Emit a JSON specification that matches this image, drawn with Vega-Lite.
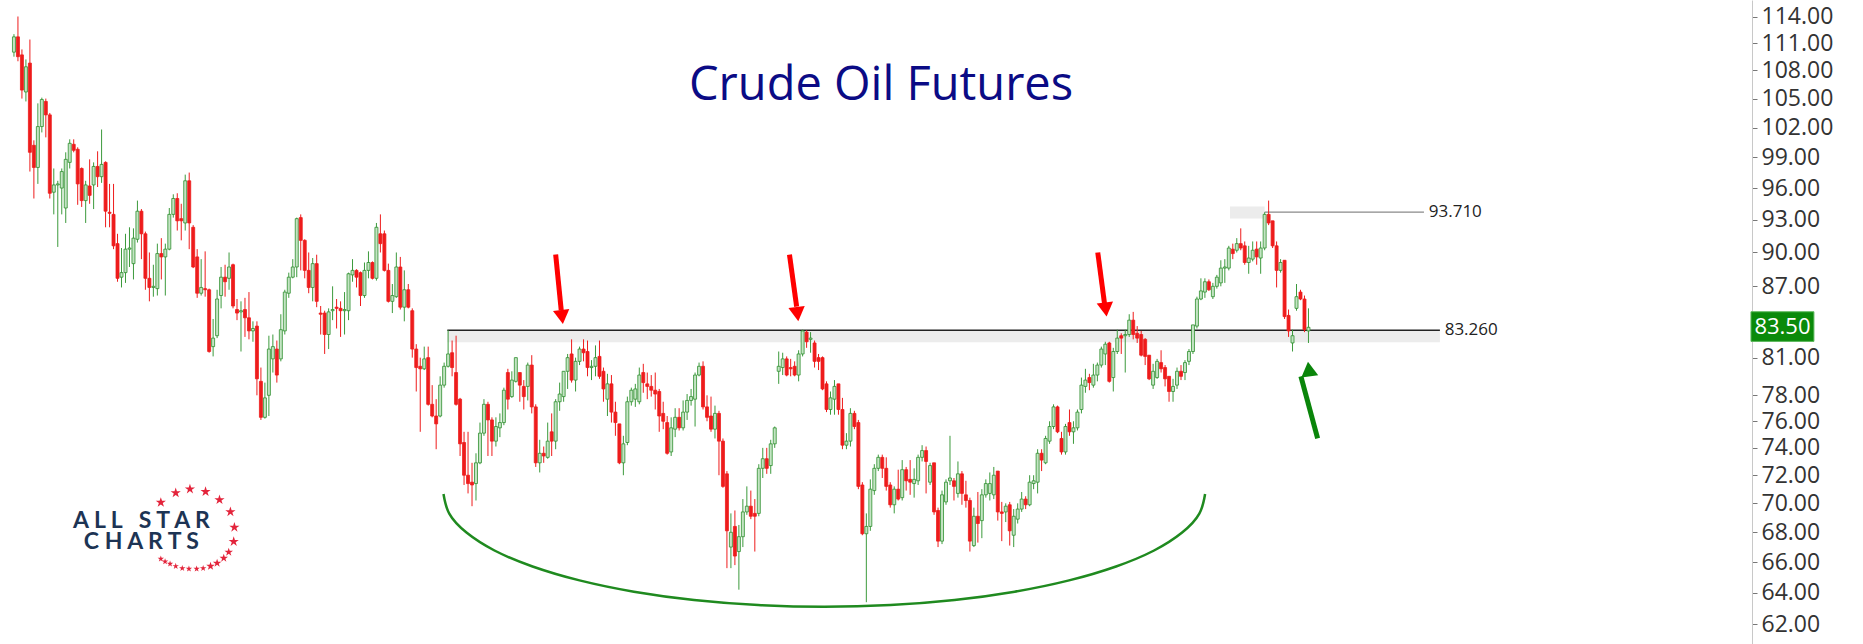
{
"$schema": "https://vega.github.io/schema/vega-lite/v6.json",
"width": 1752, "height": 644,
"autosize": {"type": "none"},
"padding": {"left": 0, "top": 0, "right": 111, "bottom": 0},
"background": "white",
"config": {"view": {"stroke": null}},
"datasets": {
"candles": [
{"i":0,"o":110,"h":112,"l":109.5,"c":111.7},{"i":1,"o":111.7,"h":114,"l":109,"c":109.5},{"i":2,"o":109.7,"h":110.3,"l":105,"c":105.9},{"i":3,"o":105.7,"h":109.2,"l":104.7,"c":108.4},{"i":4,"o":108.8,"h":111.4,"l":97.6,"c":99.5},{"i":5,"o":100.2,"h":100.7,"l":95,"c":98},{"i":6,"o":98,"h":104.5,"l":96.4,"c":102.1},{"i":7,"o":102.1,"h":105.1,"l":101.5,"c":104.9},{"i":8,"o":104.7,"h":105,"l":101,"c":103.3},{"i":9,"o":103.3,"h":103.5,"l":95,"c":95.5},
{"i":10,"o":95.6,"h":97.9,"l":93.5,"c":96.3},{"i":11,"o":96.3,"h":96.7,"l":90.5,"c":96.4},{"i":12,"o":96,"h":97.9,"l":93.5,"c":97.6},{"i":13,"o":94.1,"h":99.5,"l":92.7,"c":98.8},{"i":14,"o":98.5,"h":100.8,"l":97.9,"c":100.4},{"i":15,"o":100.3,"h":100.8,"l":99.5,"c":99.7},{"i":16,"o":99.8,"h":100,"l":94.4,"c":96.4},{"i":17,"o":97.9,"h":98,"l":94.2,"c":94.8},{"i":18,"o":94.8,"h":96.7,"l":92.7,"c":96.3},{"i":19,"o":96.2,"h":98.8,"l":94.5,"c":95.3},
{"i":20,"o":96.3,"h":98.5,"l":94,"c":98.1},{"i":21,"o":98.1,"h":99.6,"l":96.1,"c":97.1},{"i":22,"o":97.1,"h":101.8,"l":96.5,"c":98.3},{"i":23,"o":98.5,"h":98.6,"l":92.3,"c":93.8},{"i":24,"o":93.7,"h":96.4,"l":92.3,"c":93.6},{"i":25,"o":93.5,"h":96.4,"l":90.3,"c":90.6},{"i":26,"o":90.8,"h":91.7,"l":87.4,"c":87.7},{"i":27,"o":87.8,"h":90.4,"l":86.9,"c":88.2},{"i":28,"o":88.2,"h":91.7,"l":87.3,"c":90.3},{"i":29,"o":90.3,"h":92.3,"l":88.7,"c":90.4},
{"i":30,"o":89,"h":92.2,"l":87.6,"c":91.3},{"i":31,"o":91.2,"h":94.8,"l":90.9,"c":93.8},{"i":32,"o":93.8,"h":94,"l":89.4,"c":91.7},{"i":33,"o":91.7,"h":91.9,"l":86.7,"c":87.7},{"i":34,"o":87.7,"h":90,"l":85.7,"c":86.9},{"i":35,"o":86.9,"h":88.9,"l":86.1,"c":87},{"i":36,"o":86.8,"h":90.8,"l":86.2,"c":89.9},{"i":37,"o":89.9,"h":91.3,"l":87.6,"c":89.6},{"i":38,"o":89.6,"h":90.8,"l":86.2,"c":90.3},{"i":39,"o":90.3,"h":94.1,"l":90.2,"c":93.5},
{"i":40,"o":93.5,"h":95.4,"l":93.2,"c":95},{"i":41,"o":95,"h":95.5,"l":92,"c":92.9},{"i":42,"o":93.1,"h":94.5,"l":91.1,"c":92.9},{"i":43,"o":92.7,"h":97.3,"l":92,"c":96.7},{"i":44,"o":96.7,"h":97.5,"l":90.3,"c":92.7},{"i":45,"o":92.3,"h":92.5,"l":88.6,"c":88.7},{"i":46,"o":89.6,"h":90.3,"l":86,"c":86.4},{"i":47,"o":86.4,"h":89.4,"l":86.2,"c":86.9},{"i":48,"o":86.8,"h":90.1,"l":86.1,"c":86.7},{"i":49,"o":86.7,"h":86.8,"l":81.4,"c":81.5},
{"i":50,"o":81.9,"h":84.2,"l":81.1,"c":82.6},{"i":51,"o":82.8,"h":86.7,"l":82.6,"c":85.9},{"i":52,"o":86.2,"h":88.7,"l":85.1,"c":87.8},{"i":53,"o":87.8,"h":88.9,"l":86.1,"c":87.4},{"i":54,"o":87.7,"h":90,"l":86.7,"c":88.7},{"i":55,"o":88.9,"h":89,"l":85.1,"c":85.3},{"i":56,"o":85,"h":85.9,"l":84.1,"c":84.7},{"i":57,"o":84.8,"h":85.7,"l":81.5,"c":84.9},{"i":58,"o":85,"h":86,"l":82.7,"c":84.3},{"i":59,"o":84.3,"h":86.5,"l":82.5,"c":83.2},
{"i":60,"o":83.2,"h":84,"l":82.3,"c":83.4},{"i":61,"o":83.6,"h":84,"l":78,"c":79.3},{"i":62,"o":79.1,"h":80.2,"l":76.1,"c":76.3},{"i":63,"o":76.3,"h":79,"l":76.2,"c":77.8},{"i":64,"o":78,"h":82.8,"l":76.4,"c":81.7},{"i":65,"o":80.9,"h":82.9,"l":79.8,"c":81.9},{"i":66,"o":81.7,"h":82.4,"l":79,"c":79.6},{"i":67,"o":80.9,"h":84.6,"l":80.7,"c":83.3},{"i":68,"o":83.2,"h":86.7,"l":82.9,"c":86.5},{"i":69,"o":86.4,"h":88.2,"l":86,"c":87.8},
{"i":70,"o":87.8,"h":89.4,"l":87.7,"c":88.7},{"i":71,"o":88.7,"h":93.2,"l":87.8,"c":93.1},{"i":72,"o":93.2,"h":93.5,"l":88.4,"c":91.1},{"i":73,"o":91.1,"h":91.2,"l":87.7,"c":88.4},{"i":74,"o":88.4,"h":90,"l":86.4,"c":86.9},{"i":75,"o":86.9,"h":89.5,"l":85.7,"c":89},{"i":76,"o":89,"h":89.8,"l":85.2,"c":85.7},{"i":77,"o":84.7,"h":85.3,"l":82.9,"c":84.6},{"i":78,"o":84.7,"h":84.9,"l":81.3,"c":82.9},{"i":79,"o":82.9,"h":85.1,"l":81.7,"c":84.8},
{"i":80,"o":84.9,"h":87,"l":84.1,"c":85},{"i":81,"o":85.2,"h":85.9,"l":83.4,"c":85.1},{"i":82,"o":85.1,"h":85.7,"l":82.7,"c":84.9},{"i":83,"o":84.9,"h":86.5,"l":82.9,"c":85},{"i":84,"o":84.9,"h":88.2,"l":84.1,"c":88.1},{"i":85,"o":88,"h":89.4,"l":87.4,"c":88.4},{"i":86,"o":88.4,"h":88.5,"l":86.9,"c":87.8},{"i":87,"o":88.2,"h":88.3,"l":85.3,"c":86.2},{"i":88,"o":86.2,"h":89.1,"l":86,"c":88.4},{"i":89,"o":88.4,"h":90.1,"l":87.7,"c":89.1},
{"i":90,"o":89.1,"h":89.2,"l":87.6,"c":87.7},{"i":91,"o":87.7,"h":92.7,"l":87.5,"c":92.3},{"i":92,"o":91.7,"h":93.5,"l":90,"c":90.8},{"i":93,"o":91.7,"h":92,"l":88.3,"c":88.4},{"i":94,"o":88.4,"h":89,"l":85.6,"c":85.7},{"i":95,"o":85.7,"h":87.2,"l":84.7,"c":86.2},{"i":96,"o":86.1,"h":90,"l":86,"c":88.7},{"i":97,"o":88.7,"h":89.6,"l":85,"c":85.2},{"i":98,"o":85.2,"h":88.4,"l":84,"c":86.7},{"i":99,"o":86.7,"h":87.2,"l":85.1,"c":85.2},
{"i":100,"o":84.9,"h":85.1,"l":81,"c":81.7},{"i":101,"o":81.7,"h":82.1,"l":78.3,"c":80.2},{"i":102,"o":80.3,"h":81,"l":75.2,"c":80.1},{"i":103,"o":80.1,"h":81.9,"l":80,"c":80.9},{"i":104,"o":81,"h":81.9,"l":77.2,"c":77.3},{"i":105,"o":77.3,"h":78.8,"l":76.3,"c":76.4},{"i":106,"o":76.4,"h":77.7,"l":73.9,"c":75.8},{"i":107,"o":76.4,"h":79.5,"l":76.3,"c":78.8},{"i":108,"o":78.8,"h":80.6,"l":78.6,"c":80.3},{"i":109,"o":80.3,"h":83.26,"l":80.2,"c":81.3},
{"i":110,"o":81.4,"h":82.4,"l":79.5,"c":80.2},{"i":111,"o":79.8,"h":82.8,"l":77.2,"c":77.3},{"i":112,"o":77.7,"h":77.8,"l":73.4,"c":74.3},{"i":113,"o":74.4,"h":75.2,"l":71.3,"c":72},{"i":114,"o":72,"h":75.2,"l":70.7,"c":71.4},{"i":115,"o":71.5,"h":72.9,"l":69.8,"c":71.3},{"i":116,"o":71.4,"h":73.6,"l":70.2,"c":72.9},{"i":117,"o":72.9,"h":75.9,"l":72.8,"c":75.1},{"i":118,"o":75.1,"h":77.7,"l":74.9,"c":77.3},{"i":119,"o":77.3,"h":77.5,"l":73.4,"c":76.1},
{"i":120,"o":76.1,"h":76.3,"l":73.4,"c":74.5},{"i":121,"o":74.5,"h":76.3,"l":74.1,"c":75.6},{"i":122,"o":75.5,"h":76.6,"l":74.8,"c":75.9},{"i":123,"o":75.9,"h":78.6,"l":75.7,"c":78.4},{"i":124,"o":79.8,"h":80.1,"l":76.9,"c":77.7},{"i":125,"o":77.9,"h":79.9,"l":77.8,"c":79.2},{"i":126,"o":79.1,"h":81,"l":79,"c":81},{"i":127,"o":79.8,"h":79.8,"l":77.5,"c":78.8},{"i":128,"o":78.7,"h":79.2,"l":76.9,"c":77.9},{"i":129,"o":78.7,"h":80.6,"l":77.6,"c":80.4},
{"i":130,"o":80.4,"h":81.2,"l":76.6,"c":77.1},{"i":131,"o":77.1,"h":77.3,"l":72.6,"c":72.9},{"i":132,"o":72.9,"h":74.6,"l":72.2,"c":73.6},{"i":133,"o":73.6,"h":74.1,"l":72.9,"c":73.4},{"i":134,"o":73.3,"h":75.9,"l":73.2,"c":74.5},{"i":135,"o":75.2,"h":76.6,"l":73.4,"c":74.5},{"i":136,"o":74.5,"h":77.7,"l":73.9,"c":77.5},{"i":137,"o":77.5,"h":79,"l":76.8,"c":78.1},{"i":138,"o":77.9,"h":79.9,"l":77.5,"c":79.9},{"i":139,"o":79.9,"h":81.3,"l":78.5,"c":81},
{"i":140,"o":81.3,"h":82.5,"l":79,"c":79.2},{"i":141,"o":79.2,"h":81,"l":78.3,"c":80.7},{"i":142,"o":80.7,"h":81.9,"l":80.4,"c":81.7},{"i":143,"o":81.7,"h":82.5,"l":80.7,"c":81.4},{"i":144,"o":81.5,"h":82.4,"l":79.5,"c":80.2},{"i":145,"o":80.2,"h":80.8,"l":79.2,"c":80.3},{"i":146,"o":80.3,"h":82,"l":79.5,"c":81},{"i":147,"o":81.1,"h":82.4,"l":79.3,"c":79.5},{"i":148,"o":79.9,"h":80.2,"l":77.5,"c":78.5},{"i":149,"o":77.7,"h":79.7,"l":76.4,"c":78.9},
{"i":150,"o":78.9,"h":79.6,"l":75.9,"c":76.7},{"i":151,"o":76.7,"h":77.5,"l":74.9,"c":75.9},{"i":152,"o":75.8,"h":75.8,"l":72.8,"c":72.9},{"i":153,"o":72.9,"h":74.9,"l":72,"c":74.3},{"i":154,"o":74.4,"h":77.9,"l":74.2,"c":77.5},{"i":155,"o":77.5,"h":78.6,"l":77.2,"c":78.4},{"i":156,"o":77.7,"h":78.9,"l":77.1,"c":78.5},{"i":157,"o":77.5,"h":80.2,"l":77.3,"c":79.6},{"i":158,"o":79.8,"h":80.5,"l":78.2,"c":79},{"i":159,"o":78.9,"h":79.8,"l":77.7,"c":78.7},
{"i":160,"o":78.7,"h":79.6,"l":77.9,"c":78.4},{"i":161,"o":78.4,"h":79.8,"l":76.9,"c":78.1},{"i":162,"o":78.3,"h":78.5,"l":75.2,"c":76.4},{"i":163,"o":76.6,"h":77.5,"l":75.4,"c":76},{"i":164,"o":75.9,"h":76.4,"l":73.5,"c":73.6},{"i":165,"o":73.7,"h":76.3,"l":73.4,"c":75.5},{"i":166,"o":75.4,"h":77,"l":74.8,"c":76.3},{"i":167,"o":76.3,"h":77,"l":75.3,"c":75.5},{"i":168,"o":75.5,"h":77.6,"l":75.3,"c":76.7},{"i":169,"o":76.7,"h":78.1,"l":76.1,"c":77.6},
{"i":170,"o":77.6,"h":78.5,"l":77.2,"c":77.9},{"i":171,"o":77.7,"h":79.8,"l":75.6,"c":79.6},{"i":172,"o":79.6,"h":80.6,"l":79.5,"c":80.3},{"i":173,"o":80.3,"h":80.7,"l":76.9,"c":77.1},{"i":174,"o":77.1,"h":78,"l":76,"c":76.3},{"i":175,"o":76.4,"h":77.9,"l":75.2,"c":75.4},{"i":176,"o":75.4,"h":77.2,"l":74.7,"c":76.6},{"i":177,"o":76.6,"h":76.8,"l":72,"c":74.5},{"i":178,"o":74.5,"h":74.7,"l":71.1,"c":71.2},{"i":179,"o":72.1,"h":72.3,"l":65.6,"c":68.1},
{"i":180,"o":67,"h":69.3,"l":65.6,"c":68},{"i":181,"o":68.4,"h":69.5,"l":65.8,"c":66.4},{"i":182,"o":66.7,"h":68.5,"l":64.2,"c":67.7},{"i":183,"o":67.7,"h":70.3,"l":67,"c":69.4},{"i":184,"o":69.4,"h":71.2,"l":69.2,"c":69.8},{"i":185,"o":69.8,"h":70.9,"l":68.9,"c":69.1},{"i":186,"o":69.3,"h":70.3,"l":66.7,"c":69.1},{"i":187,"o":69.3,"h":72.8,"l":69.1,"c":72.5},{"i":188,"o":72.5,"h":74,"l":71.8,"c":73.2},{"i":189,"o":73.2,"h":74,"l":72.1,"c":72.5},
{"i":190,"o":72.7,"h":74.6,"l":72.1,"c":74.3},{"i":191,"o":74.3,"h":75.6,"l":74,"c":75.5},{"i":192,"o":79.9,"h":81.5,"l":78.9,"c":80.3},{"i":193,"o":80.2,"h":81.4,"l":79.6,"c":80.9},{"i":194,"o":80.9,"h":81.1,"l":79.5,"c":79.6},{"i":195,"o":80.2,"h":80.9,"l":79.5,"c":80.1},{"i":196,"o":80.3,"h":80.7,"l":79.5,"c":79.6},{"i":197,"o":79.6,"h":81.6,"l":79.1,"c":81.3},{"i":198,"o":81.3,"h":83.3,"l":81.1,"c":83.2},{"i":199,"o":83.1,"h":83.26,"l":81.8,"c":82.3},
{"i":200,"o":82.5,"h":83.1,"l":81.4,"c":82.6},{"i":201,"o":82.2,"h":82.4,"l":80.2,"c":80.7},{"i":202,"o":81,"h":81.3,"l":80,"c":80.7},{"i":203,"o":81,"h":81.1,"l":78.4,"c":78.5},{"i":204,"o":78.9,"h":79.1,"l":76.7,"c":76.9},{"i":205,"o":76.9,"h":78.3,"l":76.5,"c":77.8},{"i":206,"o":77.7,"h":79.2,"l":76.5,"c":78.7},{"i":207,"o":78.9,"h":78.9,"l":76.5,"c":76.9},{"i":208,"o":76.9,"h":77.8,"l":73.9,"c":74.2},{"i":209,"o":74.2,"h":75.1,"l":73.9,"c":74.5},
{"i":210,"o":74.5,"h":77,"l":74.1,"c":76.6},{"i":211,"o":76.6,"h":76.8,"l":75.4,"c":75.6},{"i":212,"o":75.9,"h":76.1,"l":71,"c":71.2},{"i":213,"o":71.3,"h":71.5,"l":67.8,"c":67.9},{"i":214,"o":67.9,"h":69.3,"l":63.4,"c":68.4},{"i":215,"o":68.4,"h":71.7,"l":68.1,"c":71},{"i":216,"o":70.9,"h":72.8,"l":70.6,"c":72.5},{"i":217,"o":72.5,"h":73.5,"l":72.3,"c":73.3},{"i":218,"o":73.3,"h":73.5,"l":71.8,"c":72.5},{"i":219,"o":72.5,"h":73.3,"l":70.9,"c":71.2},
{"i":220,"o":71.3,"h":71.5,"l":69.7,"c":69.9},{"i":221,"o":69.9,"h":71.2,"l":69.3,"c":71},{"i":222,"o":71,"h":72.4,"l":70.2,"c":70.3},{"i":223,"o":70.4,"h":73.1,"l":70.2,"c":72.4},{"i":224,"o":72.4,"h":72.6,"l":70.9,"c":71.6},{"i":225,"o":71.7,"h":73.1,"l":70.6,"c":71.5},{"i":226,"o":71.4,"h":72.5,"l":70.4,"c":71.7},{"i":227,"o":71.6,"h":73.5,"l":71.3,"c":73.3},{"i":228,"o":73.3,"h":74.2,"l":73,"c":73.8},{"i":229,"o":73.8,"h":74.1,"l":70.7,"c":73},
{"i":230,"o":71.5,"h":72.9,"l":71.3,"c":72.7},{"i":231,"o":72.9,"h":72.9,"l":69.2,"c":69.4},{"i":232,"o":69.5,"h":69.7,"l":67,"c":67.4},{"i":233,"o":67.4,"h":70.9,"l":67.2,"c":70.6},{"i":234,"o":70.1,"h":71.7,"l":69.9,"c":71.5},{"i":235,"o":71.6,"h":74.9,"l":71.3,"c":71.8},{"i":236,"o":71.6,"h":71.8,"l":70.2,"c":71.2},{"i":237,"o":70.7,"h":73,"l":70.4,"c":72.1},{"i":238,"o":72.1,"h":72.3,"l":69.9,"c":70.7},{"i":239,"o":70.6,"h":71.6,"l":69.7,"c":70.2},
{"i":240,"o":70.2,"h":70.4,"l":66.7,"c":67.4},{"i":241,"o":67.1,"h":69.7,"l":67,"c":69.1},{"i":242,"o":69.1,"h":70.8,"l":67.3,"c":68.6},{"i":243,"o":68.8,"h":71,"l":67.6,"c":70.6},{"i":244,"o":70.6,"h":71.7,"l":70.4,"c":71.4},{"i":245,"o":70.7,"h":72.2,"l":70.2,"c":71.4},{"i":246,"o":70.6,"h":72.6,"l":70.3,"c":72},{"i":247,"o":72.3,"h":72.3,"l":68.8,"c":69.4},{"i":248,"o":69.4,"h":70.1,"l":67.4,"c":69.3},{"i":249,"o":69.4,"h":70,"l":68.7,"c":69.8},
{"i":250,"o":69.9,"h":70.1,"l":67.1,"c":68.1},{"i":251,"o":67.8,"h":69.6,"l":67,"c":69.1},{"i":252,"o":68.9,"h":70,"l":68.6,"c":69.6},{"i":253,"o":69.6,"h":70.8,"l":69.4,"c":70.3},{"i":254,"o":70.3,"h":70.5,"l":69.6,"c":69.9},{"i":255,"o":69.9,"h":72,"l":69.8,"c":71.5},{"i":256,"o":71.4,"h":72,"l":71,"c":71.6},{"i":257,"o":71.5,"h":73.9,"l":70.7,"c":73.6},{"i":258,"o":73.6,"h":73.9,"l":72.3,"c":73.1},{"i":259,"o":72.9,"h":74.9,"l":72.8,"c":74.7},
{"i":260,"o":74.5,"h":76,"l":74.3,"c":75.6},{"i":261,"o":75.6,"h":77.3,"l":75.4,"c":77.1},{"i":262,"o":77.1,"h":77.2,"l":75.1,"c":75.2},{"i":263,"o":74.7,"h":75.2,"l":73.5,"c":73.7},{"i":264,"o":73.7,"h":75.8,"l":73.5,"c":75.6},{"i":265,"o":75.9,"h":76.9,"l":74.9,"c":75.2},{"i":266,"o":75.2,"h":76,"l":74.3,"c":75.5},{"i":267,"o":75.5,"h":76.9,"l":75.3,"c":76.7},{"i":268,"o":76.9,"h":79.4,"l":76.6,"c":78.8},{"i":269,"o":78.7,"h":80.1,"l":78.2,"c":79.2},
{"i":270,"o":79.4,"h":79.7,"l":78.4,"c":79},{"i":271,"o":78.8,"h":80.5,"l":78.6,"c":79.6},{"i":272,"o":79.6,"h":80.6,"l":79.1,"c":80.4},{"i":273,"o":80.4,"h":81.9,"l":80.2,"c":81.7},{"i":274,"o":81.3,"h":82.3,"l":80.4,"c":82.1},{"i":275,"o":82.2,"h":82.3,"l":79,"c":79.1},{"i":276,"o":79.4,"h":81.8,"l":78.3,"c":81.5},{"i":277,"o":81.5,"h":83.3,"l":81.3,"c":82.6},{"i":278,"o":82.8,"h":83,"l":81.3,"c":82.6},{"i":279,"o":82.8,"h":83.3,"l":79.8,"c":82.9},
{"i":280,"o":82.9,"h":84.6,"l":82.7,"c":84.1},{"i":281,"o":84.1,"h":84.8,"l":82.5,"c":82.9},{"i":282,"o":83,"h":83.6,"l":82.2,"c":82.6},{"i":283,"o":82.9,"h":83.2,"l":81.1,"c":81.2},{"i":284,"o":82.5,"h":82.6,"l":80.4,"c":81.1},{"i":285,"o":81.2,"h":81.2,"l":79.2,"c":79.3},{"i":286,"o":78.8,"h":80.5,"l":78.5,"c":79.9},{"i":287,"o":79.4,"h":80.9,"l":79.3,"c":80.7},{"i":288,"o":80.6,"h":81.6,"l":79.8,"c":80.1},{"i":289,"o":80.2,"h":80.4,"l":78.7,"c":79.3},
{"i":290,"o":79.5,"h":79.5,"l":77.5,"c":78.3},{"i":291,"o":78.3,"h":79.3,"l":77.5,"c":78.7},{"i":292,"o":78.8,"h":80.2,"l":78.5,"c":79.9},{"i":293,"o":79.9,"h":80.4,"l":79.2,"c":79.5},{"i":294,"o":79.8,"h":80.8,"l":79.2,"c":80.6},{"i":295,"o":80.7,"h":81.7,"l":80.4,"c":81.5},{"i":296,"o":81.5,"h":83.7,"l":81.3,"c":83.7},{"i":297,"o":83.6,"h":86.1,"l":83.4,"c":85.9},{"i":298,"o":85.9,"h":87.7,"l":85.8,"c":86.6},{"i":299,"o":86.5,"h":87.7,"l":86,"c":87.4},
{"i":300,"o":87.4,"h":87.6,"l":86.6,"c":86.7},{"i":301,"o":86.1,"h":87.3,"l":85.9,"c":87},{"i":302,"o":87,"h":88,"l":86.8,"c":87.8},{"i":303,"o":87.3,"h":89.3,"l":87,"c":88.6},{"i":304,"o":88.6,"h":89.4,"l":87.3,"c":88.7},{"i":305,"o":88.6,"h":90.6,"l":88.4,"c":90.4},{"i":306,"o":90.3,"h":90.8,"l":89.4,"c":89.9},{"i":307,"o":90.2,"h":91.3,"l":90,"c":90.8},{"i":308,"o":90.8,"h":92.2,"l":90.2,"c":90.4},{"i":309,"o":90.6,"h":91,"l":88.9,"c":89.1},
{"i":310,"o":89.1,"h":90.6,"l":88.1,"c":89.5},{"i":311,"o":89.4,"h":91,"l":89.2,"c":90.2},{"i":312,"o":90.3,"h":91,"l":88.9,"c":89.6},{"i":313,"o":89.5,"h":91,"l":88.1,"c":90.4},{"i":314,"o":90.4,"h":93.7,"l":90.2,"c":93.5},{"i":315,"o":93.5,"h":94.8,"l":92.5,"c":92.7},{"i":316,"o":92.9,"h":92.9,"l":90.4,"c":90.6},{"i":317,"o":90.6,"h":91,"l":86.9,"c":88.4},{"i":318,"o":88.4,"h":89.4,"l":88.2,"c":89.1},{"i":319,"o":89.3,"h":89.3,"l":84.2,"c":84.4},
{"i":320,"o":84.5,"h":85,"l":82.7,"c":83.2},{"i":321,"o":82.2,"h":83.3,"l":81.5,"c":82.8},{"i":322,"o":85.1,"h":87.2,"l":84.9,"c":86.1},{"i":323,"o":86.5,"h":86.7,"l":85.8,"c":85.9},{"i":324,"o":85.9,"h":86.2,"l":83.1,"c":83.3},{"i":325,"o":83.2,"h":85.1,"l":82.2,"c":83.5}
],
"arc": [
{"k":0,"i":107.84,"p":70.66},{"k":1,"i":109.29,"p":69.28},{"k":2,"i":113.61,"p":67.98},{"k":3,"i":120.64,"p":66.77},{"k":4,"i":130.2,"p":65.71},{"k":5,"i":141.99,"p":64.8},{"k":6,"i":155.64,"p":64.07},{"k":7,"i":170.74,"p":63.54},{"k":8,"i":186.84,"p":63.22},{"k":9,"i":203.44,"p":63.11},{"k":10,"i":220.04,"p":63.22},{"k":11,"i":236.15,"p":63.54},{"k":12,"i":251.25,"p":64.07},{"k":13,"i":264.9,"p":64.8},{"k":14,"i":276.69,"p":65.71},{"k":15,"i":286.24,"p":66.77},{"k":16,"i":293.28,"p":67.98},{"k":17,"i":297.6,"p":69.28},{"k":18,"i":299.05,"p":70.66}
],
"stars": [
{"i":36.87,"p":70.06,"t":"big"},{"i":40.61,"p":70.73,"t":"big"},{"i":44.18,"p":71.01,"t":"big"},{"i":48.1,"p":70.82,"t":"big"},{"i":51.6,"p":70.25,"t":"big"},{"i":54.34,"p":69.41,"t":"big"},{"i":55.34,"p":68.34,"t":"big"},{"i":55.17,"p":67.37,"t":"big"},
{"i":53.92,"p":66.66,"t":"mid"},{"i":52.67,"p":66.26,"t":"mid"},{"i":51.0,"p":65.93,"t":"mid"},{"i":49.35,"p":65.73,"t":"mid"},
{"i":47.5,"p":65.59,"t":"small"},{"i":45.86,"p":65.55,"t":"small"},{"i":43.93,"p":65.55,"t":"small"},{"i":42.26,"p":65.59,"t":"small"},{"i":40.61,"p":65.73,"t":"small"},{"i":39.19,"p":65.88,"t":"small"},{"i":37.94,"p":66.03,"t":"small"},{"i":36.87,"p":66.21,"t":"small"}
]
},
"layer": [
{"data": {"values": [{"x1":108.8,"x2":358.0,"y1":83.26,"y2":82.25},{"x1":305.3,"x2":314.0,"y1":94.23,"y2":93.12}]},
 "mark": {"type": "rect", "fill": "#ececec"},
 "encoding": {
  "x": {"field": "x1", "type": "quantitative", "scale": {"domain": [-2.25, 435.1], "nice": false, "zero": false}, "axis": null},
  "x2": {"field": "x2"},
  "y": {"field": "y1", "type": "quantitative", "scale": {"type": "log", "domain": [60.8, 115.9], "nice": false, "zero": false},
        "axis": {"orient": "right", "title": null, "values": [62,64,66,68,70,72,74,76,78,81,87,90,93,96,99,102,105,108,111,114], "format": ".2f", "labelFont": "Open Sans", "labelFontSize": 23, "labelColor": "#333333", "tickColor": "#777777", "tickSize": 5, "labelPadding": 4, "domainColor": "#c8c8c8", "grid": false, "labelOverlap": false}},
  "y2": {"field": "y2"}}},
{"data": {"values": [{"x1":108.8,"x2":358.0,"y":83.26}]},
 "mark": {"type": "rule", "stroke": "#222222", "strokeWidth": 1.5},
 "encoding": {
  "x": {"field": "x1", "type": "quantitative", "scale": {"domain": [-2.25, 435.1], "nice": false, "zero": false}, "axis": null},
  "x2": {"field": "x2"},
  "y": {"field": "y", "type": "quantitative", "scale": {"type": "log", "domain": [60.8, 115.9], "nice": false, "zero": false}}}},
{"data": {"values": [{"x1":314.0,"x2":354.0,"y":93.71}]},
 "mark": {"type": "rule", "stroke": "#8a8a8a", "strokeWidth": 1.2},
 "encoding": {
  "x": {"field": "x1", "type": "quantitative", "scale": {"domain": [-2.25, 435.1], "nice": false, "zero": false}, "axis": null},
  "x2": {"field": "x2"},
  "y": {"field": "y", "type": "quantitative", "scale": {"type": "log", "domain": [60.8, 115.9], "nice": false, "zero": false}}}},
{"data": {"name": "arc"},
 "mark": {"type": "line", "stroke": "#1f8a1f", "strokeWidth": 2.5, "interpolate": "natural"},
 "encoding": {
  "x": {"field": "i", "type": "quantitative", "scale": {"domain": [-2.25, 435.1], "nice": false, "zero": false}, "axis": null},
  "y": {"field": "p", "type": "quantitative", "scale": {"type": "log", "domain": [60.8, 115.9], "nice": false, "zero": false}},
  "order": {"field": "k", "type": "quantitative"}}},
{"data": {"name": "candles"},
 "mark": {"type": "rule", "strokeWidth": 1},
 "encoding": {
  "x": {"field": "i", "type": "quantitative", "scale": {"domain": [-2.25, 435.1], "nice": false, "zero": false}, "axis": null},
  "y": {"field": "l", "type": "quantitative", "scale": {"type": "log", "domain": [60.8, 115.9], "nice": false, "zero": false}},
  "y2": {"field": "h"},
  "stroke": {"condition": {"test": "datum.c >= datum.o", "value": "#3c9a3c"}, "value": "#ee1c1c"}}},
{"data": {"name": "candles"},
 "mark": {"type": "bar", "width": 3, "strokeWidth": 0.8},
 "encoding": {
  "x": {"field": "i", "type": "quantitative", "scale": {"domain": [-2.25, 435.1], "nice": false, "zero": false}, "axis": null},
  "y": {"field": "o", "type": "quantitative", "scale": {"type": "log", "domain": [60.8, 115.9], "nice": false, "zero": false}},
  "y2": {"field": "c"},
  "fill": {"condition": {"test": "datum.c >= datum.o", "value": "#c3e4c3"}, "value": "#ee1c1c"},
  "stroke": {"condition": {"test": "datum.c >= datum.o", "value": "#2f8f2f"}, "value": "#ee1c1c"}}},
{"data": {"values": [{"x1":136.0,"y1":89.82,"x2":137.4,"y2":84.93},{"x1":194.7,"y1":89.8,"x2":196.5,"y2":85.24},{"x1":272.1,"y1":90.0,"x2":273.8,"y2":85.5}]},
 "mark": {"type": "rule", "stroke": "#ff0000", "strokeWidth": 5},
 "encoding": {
  "x": {"field": "x1", "type": "quantitative", "scale": {"domain": [-2.25, 435.1], "nice": false, "zero": false}, "axis": null},
  "x2": {"field": "x2"},
  "y": {"field": "y1", "type": "quantitative", "scale": {"type": "log", "domain": [60.8, 115.9], "nice": false, "zero": false}},
  "y2": {"field": "y2"}}},
{"data": {"values": [{"x":137.6,"y":84.37},{"x":196.7,"y":84.61},{"x":274.1,"y":85.0}]},
 "mark": {"type": "point", "shape": "triangle-down", "filled": true, "size": 270, "angle": -7, "fill": "#ff0000", "opacity": 1, "strokeWidth": 0},
 "encoding": {
  "x": {"field": "x", "type": "quantitative", "scale": {"domain": [-2.25, 435.1], "nice": false, "zero": false}, "axis": null},
  "y": {"field": "y", "type": "quantitative", "scale": {"type": "log", "domain": [60.8, 115.9], "nice": false, "zero": false}}}},
{"data": {"values": [{"x1":327.3,"y1":74.7,"x2":323.1,"y2":79.5}]},
 "mark": {"type": "rule", "stroke": "#0a850a", "strokeWidth": 5},
 "encoding": {
  "x": {"field": "x1", "type": "quantitative", "scale": {"domain": [-2.25, 435.1], "nice": false, "zero": false}, "axis": null},
  "x2": {"field": "x2"},
  "y": {"field": "y1", "type": "quantitative", "scale": {"type": "log", "domain": [60.8, 115.9], "nice": false, "zero": false}},
  "y2": {"field": "y2"}}},
{"data": {"values": [{"x":325.1,"y":80.08}]},
 "mark": {"type": "point", "shape": "triangle-up", "filled": true, "size": 290, "angle": -7, "fill": "#0a850a", "opacity": 1, "strokeWidth": 0},
 "encoding": {
  "x": {"field": "x", "type": "quantitative", "scale": {"domain": [-2.25, 435.1], "nice": false, "zero": false}, "axis": null},
  "y": {"field": "y", "type": "quantitative", "scale": {"type": "log", "domain": [60.8, 115.9], "nice": false, "zero": false}}}},
{"data": {"values": [{"x":217.7,"y":104.9,"t":"Crude Oil Futures"}]},
 "mark": {"type": "text", "font": "Open Sans", "fontSize": 47, "fill": "#0b0b85", "align": "center", "baseline": "alphabetic"},
 "encoding": {
  "x": {"field": "x", "type": "quantitative", "scale": {"domain": [-2.25, 435.1], "nice": false, "zero": false}, "axis": null},
  "y": {"field": "y", "type": "quantitative", "scale": {"type": "log", "domain": [60.8, 115.9], "nice": false, "zero": false}},
  "text": {"field": "t"}}},
{"data": {"values": [{"x":355.2,"y":93.71,"t":"93.710"},{"x":359.2,"y":83.26,"t":"83.260"}]},
 "mark": {"type": "text", "font": "Open Sans", "fontSize": 17, "fill": "#222222", "align": "left", "baseline": "middle"},
 "encoding": {
  "x": {"field": "x", "type": "quantitative", "scale": {"domain": [-2.25, 435.1], "nice": false, "zero": false}, "axis": null},
  "y": {"field": "y", "type": "quantitative", "scale": {"type": "log", "domain": [60.8, 115.9], "nice": false, "zero": false}},
  "text": {"field": "t"}}},
{"data": {"values": [{"x":32.0,"y":68.75,"t":"A L L\u00a0\u00a0\u00a0S T A R\nC H A R T S"}]},
 "mark": {"type": "text", "font": "Lato", "fontWeight": "bold", "fontSize": 23, "lineHeight": 21, "lineBreak": "\n", "fill": "#1d3454", "align": "center", "baseline": "middle"},
 "encoding": {
  "x": {"field": "x", "type": "quantitative", "scale": {"domain": [-2.25, 435.1], "nice": false, "zero": false}, "axis": null},
  "y": {"field": "y", "type": "quantitative", "scale": {"type": "log", "domain": [60.8, 115.9], "nice": false, "zero": false}},
  "text": {"field": "t"}}},
{"data": {"name": "stars"},
 "mark": {"type": "point", "shape": "M0,-1L0.2245,-0.309L0.9511,-0.309L0.3633,0.118L0.5878,0.809L0,0.382L-0.5878,0.809L-0.3633,0.118L-0.9511,-0.309L-0.2245,-0.309Z", "filled": true, "fill": "#e3243b", "opacity": 1, "strokeWidth": 0},
 "encoding": {
  "x": {"field": "i", "type": "quantitative", "scale": {"domain": [-2.25, 435.1], "nice": false, "zero": false}, "axis": null},
  "y": {"field": "p", "type": "quantitative", "scale": {"type": "log", "domain": [60.8, 115.9], "nice": false, "zero": false}},
  "size": {"field": "t", "type": "nominal", "scale": {"domain": ["big", "mid", "small"], "range": [115, 45, 22]}, "legend": null}}},
{"data": {"values": [{"x1":436.1,"x2":451.9,"y1":84.81,"y2":82.33}]},
 "mark": {"type": "rect", "fill": "#0a8a0a", "stroke": "#5cb85c", "strokeWidth": 1},
 "encoding": {
  "x": {"field": "x1", "type": "quantitative", "scale": {"domain": [-2.25, 435.1], "nice": false, "zero": false}, "axis": null},
  "x2": {"field": "x2"},
  "y": {"field": "y1", "type": "quantitative", "scale": {"type": "log", "domain": [60.8, 115.9], "nice": false, "zero": false}},
  "y2": {"field": "y2"}}},
{"data": {"values": [{"x":444.0,"y":83.5,"t":"83.50"}]},
 "mark": {"type": "text", "font": "Open Sans", "fontSize": 22, "fill": "#ffffff", "align": "center", "baseline": "middle"},
 "encoding": {
  "x": {"field": "x", "type": "quantitative", "scale": {"domain": [-2.25, 435.1], "nice": false, "zero": false}, "axis": null},
  "y": {"field": "y", "type": "quantitative", "scale": {"type": "log", "domain": [60.8, 115.9], "nice": false, "zero": false}},
  "text": {"field": "t"}}}
]
}
